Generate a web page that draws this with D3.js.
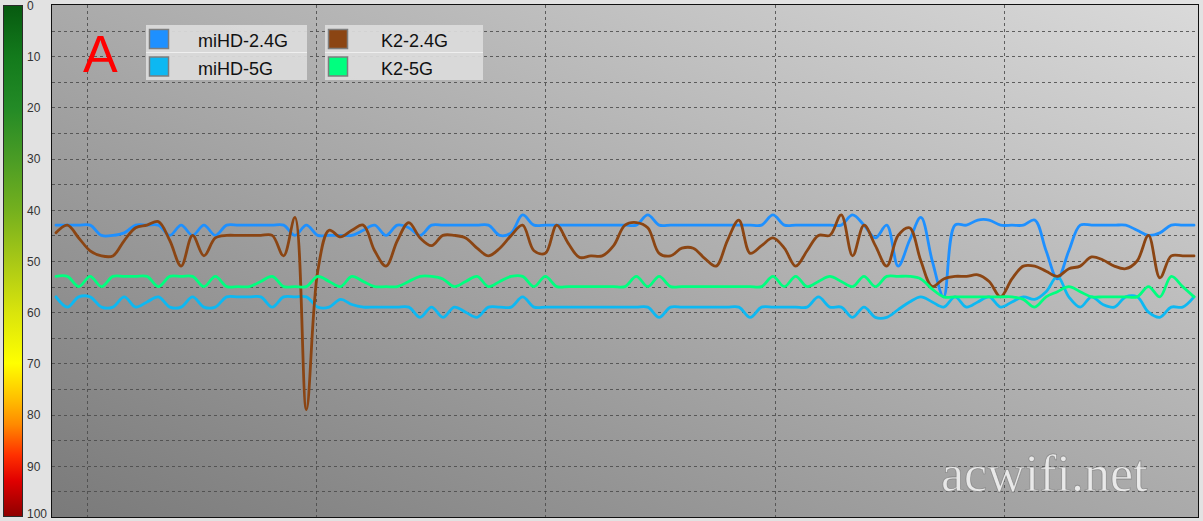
<!DOCTYPE html>
<html><head><meta charset="utf-8">
<script src="https://cdn.jsdelivr.net/npm/d3@7/dist/d3.min.js"></script>
<style>
html,body{margin:0;padding:0;background:#e2e2e2;overflow:hidden;}
svg{display:block;}
</style></head><body>
<svg id="c" width="1203" height="521"></svg>
<script>
// ---------- data ----------
const seriesNames = ["miHD-2.4G", "miHD-5G", "K2-2.4G", "K2-5G"];
const seriesColors = ["#1E90FF", "#0DB8F2", "#8B4513", "#00FF7F"];
const samples = d3.range(101); // sample index (time)

const miHD24 = [
  43,43,43,43,45,45,44.5,43,43,43,
  45,43,45,43,45,43,43,43,43,43,
  43,45,43,45,45,45,45,44,43,45,
  43,43.5,45,43,43,43,43,43,43,45,
  44.5,41,43,43,43,43,43,43,43,43,
  43,43,41,43,43,43,43,43,43,43,
  43,43,43,41,43,43,43,43,43,43,
  41,43,45.5,43,51,46,41.5,50,57,43,
  43,42,42,43,43,43,42,48,53.5,48,
  43,43,43,43,43,44,45,44.5,43,43,43
];
const miHD5 = [
  57,59,57,57,59,59,57,59,58,57,
  59,59,57,59,59,57,57,57,57,59,
  57,57,57,59,59,57.5,58.5,59,59,59,
  59,59,61,59,61,59,60,61,59,59,
  59,57,59,59,59,59,59,59,59,59,
  59,59,59,61,59,59,59,59,59,59,
  59,61,59,59,59,59,59,57,59,59,
  61,59,61,61,59.5,58,57,58,59,57,
  59,58,57,59,58,57,57.5,56,53,57,
  59,57,58.5,59,57,57,60,61,59,59,57
];
const k224 = [
  44.5,43,45.5,48,49,49,46,43.5,43,42.3,
  46,51,45,49,45.5,45,45,45,45,45,
  49,41.5,79,52,44,45.3,44,43,48,51,
  46,42.5,45.5,47,45,45,45.5,47.5,49,47.5,
  45,43,48,48.5,43,46.5,49.3,49,49,47,
  43,42.5,43.5,48.5,49,47.5,47.5,49.5,51,46,
  42,48.5,47,45.5,47.5,51,48,45,45,41,
  49,43,47,51,45,43.5,50,55,53.5,53,
  53,52.7,54,57,53.5,51,51,52,53,51.5,
  51,49.2,49.8,51,51.5,50,45,53.3,49,49,49
];
const k25 = [
  53,53,55,53,55,53,53,53,53,55,
  53,53,53,55,53,55,55,55,54,53,
  55,55,55,53,54,55,53,54,55,55,
  55,54,53,53,53.5,55,54,53,55,54,
  53,53,55,53,55,55,55,55,55,55,
  55,53,55,53,55,55,55,55,55,55,
  55,55,55,53,55,53,55,54,53,54,
  55,53,55,53,53,53,53.5,55.5,57,57,
  57,57,57,57,57,57.5,59,57,56,55,
  56,57,57,57,57,57,55,57,53,55,57
];
const seriesValues = [miHD24, miHD5, k224, k25];

const yTicks = [0,10,20,30,40,50,60,70,80,90,100];
const gridY = d3.range(5, 100, 5);
const gridX = [2.72, 22.87, 43.0, 63.16, 83.3];
const colorStops = [
  [0,"#075a10"],[10,"#137a1c"],[20,"#238a26"],[30,"#4a9c25"],[40,"#74b01e"],
  [50,"#a8c816"],[60,"#d9e40c"],[70,"#ffff00"],[77,"#ffbf00"],[82,"#ff8a00"],
  [88,"#ff3000"],[93,"#e00000"],[100,"#8e0000"]
];

// ---------- layout ----------
const L = 52, R = 1198, T = 5, B = 517;
const svg = d3.select("#c");
const defs = svg.append("defs");

const x = d3.scaleLinear().domain([-0.35, 100.35]).range([L, R]);
const y = d3.scaleLinear().domain([0, 100]).range([T, B]);

// background gradient
const bg = defs.append("linearGradient").attr("id","bg")
  .attr("x1",0).attr("y1",1).attr("x2",1).attr("y2",0);
bg.append("stop").attr("offset","0").attr("stop-color","#7a7a7a");
bg.append("stop").attr("offset","1").attr("stop-color","#dadada");

defs.append("clipPath").attr("id","clip").append("rect")
  .attr("x",L).attr("y",T).attr("width",R-L).attr("height",B-T);

// colour bar gradient
const cg = defs.append("linearGradient").attr("id","cbar")
  .attr("x1",0).attr("y1",0).attr("x2",0).attr("y2",1);
colorStops.forEach(s => cg.append("stop").attr("offset", s[0]/100).attr("stop-color", s[1]));

// plot background
svg.append("rect").attr("x",L).attr("y",T).attr("width",R-L).attr("height",B-T)
  .attr("fill","url(#bg)");

// grid
const grid = svg.append("g").attr("stroke","#4a4a4a").attr("stroke-width",1)
  .attr("stroke-dasharray","3,3").attr("stroke-opacity",0.85);
grid.selectAll("line.h").data(gridY).join("line").attr("class","h")
  .attr("x1",L).attr("x2",R)
  .attr("y1",d=>Math.round(y(d))+0.5).attr("y2",d=>Math.round(y(d))+0.5);
grid.selectAll("line.v").data(gridX).join("line").attr("class","v")
  .attr("y1",T).attr("y2",B)
  .attr("x1",d=>Math.round(x(d))+0.5).attr("x2",d=>Math.round(x(d))+0.5);

// colour bar + axis
svg.append("rect").attr("x",3.5).attr("y",T+0.5).attr("width",19).attr("height",B-T-1)
  .attr("fill","url(#cbar)").attr("stroke","#2b2b2b").attr("stroke-width",1);
const yAxis = d3.axisRight(y).tickValues(yTicks).tickSize(0).tickPadding(0);
const ax = svg.append("g").attr("transform","translate(27,0)").call(yAxis);
ax.select(".domain").remove();
ax.selectAll("text").attr("font-family","'Liberation Sans', Arial, sans-serif")
  .attr("font-size",12).attr("fill","#333")
  .attr("dy", d => d === 100 ? "0.05em" : "0.35em");

// lines
const line = d3.line().x((d,i)=>x(samples[i])).y(d=>y(d)).curve(d3.curveCatmullRom.alpha(0.5));
const lg = svg.append("g").attr("clip-path","url(#clip)");
seriesValues.forEach((vals,k)=>{
  lg.append("path").datum(vals).attr("d",line)
    .attr("fill","none").attr("stroke",seriesColors[k])
    .attr("stroke-width",2.8).attr("stroke-linejoin","round").attr("stroke-linecap","round");
});

// plot border
svg.append("rect").attr("x",L-0.5).attr("y",T-0.5).attr("width",R-L+1).attr("height",B-T+1)
  .attr("fill","none").attr("stroke","#111").attr("stroke-width",1);

// big "A"
svg.append("text").attr("x",83).attr("y",72).text("A")
  .attr("font-family","'Liberation Sans', Arial, sans-serif").attr("font-size",52)
  .attr("fill","#ff0000");

// legend
const legendBoxes = [
  {x:146, w:161, items:[0,1], tx:198},
  {x:325, w:158, items:[2,3], tx:381}
];
legendBoxes.forEach(b=>{
  b.items.forEach((si,r)=>{
    const ry = 25 + r*27.5;
    svg.append("rect").attr("x",b.x).attr("y",ry).attr("width",b.w).attr("height",27.5)
      .attr("fill","#dcdcdc").attr("fill-opacity",0.93);
    svg.append("rect").attr("x",b.x+3.5).attr("y",ry+4.5).attr("width",19).attr("height",19)
      .attr("fill",seriesColors[si]).attr("stroke","#7d7d7d").attr("stroke-width",1.5);
    svg.append("text").attr("x",b.tx).attr("y",ry+22).text(seriesNames[si])
      .attr("font-family","'Liberation Sans', Arial, sans-serif").attr("font-size",18)
      .attr("fill","#111");
  });
  svg.append("line").attr("x1",b.x).attr("x2",b.x+b.w).attr("y1",52.5).attr("y2",52.5)
    .attr("stroke","#efefef").attr("stroke-width",1);
});

// watermark
svg.append("text").attr("x",941).attr("y",491).text("acwifi.net")
  .attr("font-family","'Liberation Serif', 'Times New Roman', serif").attr("font-size",52)
  .attr("fill","#f4f4f4").attr("fill-opacity",0.85)
  .attr("stroke","#666").attr("stroke-width",0.8).attr("stroke-opacity",0.55);
</script>
</body></html>
